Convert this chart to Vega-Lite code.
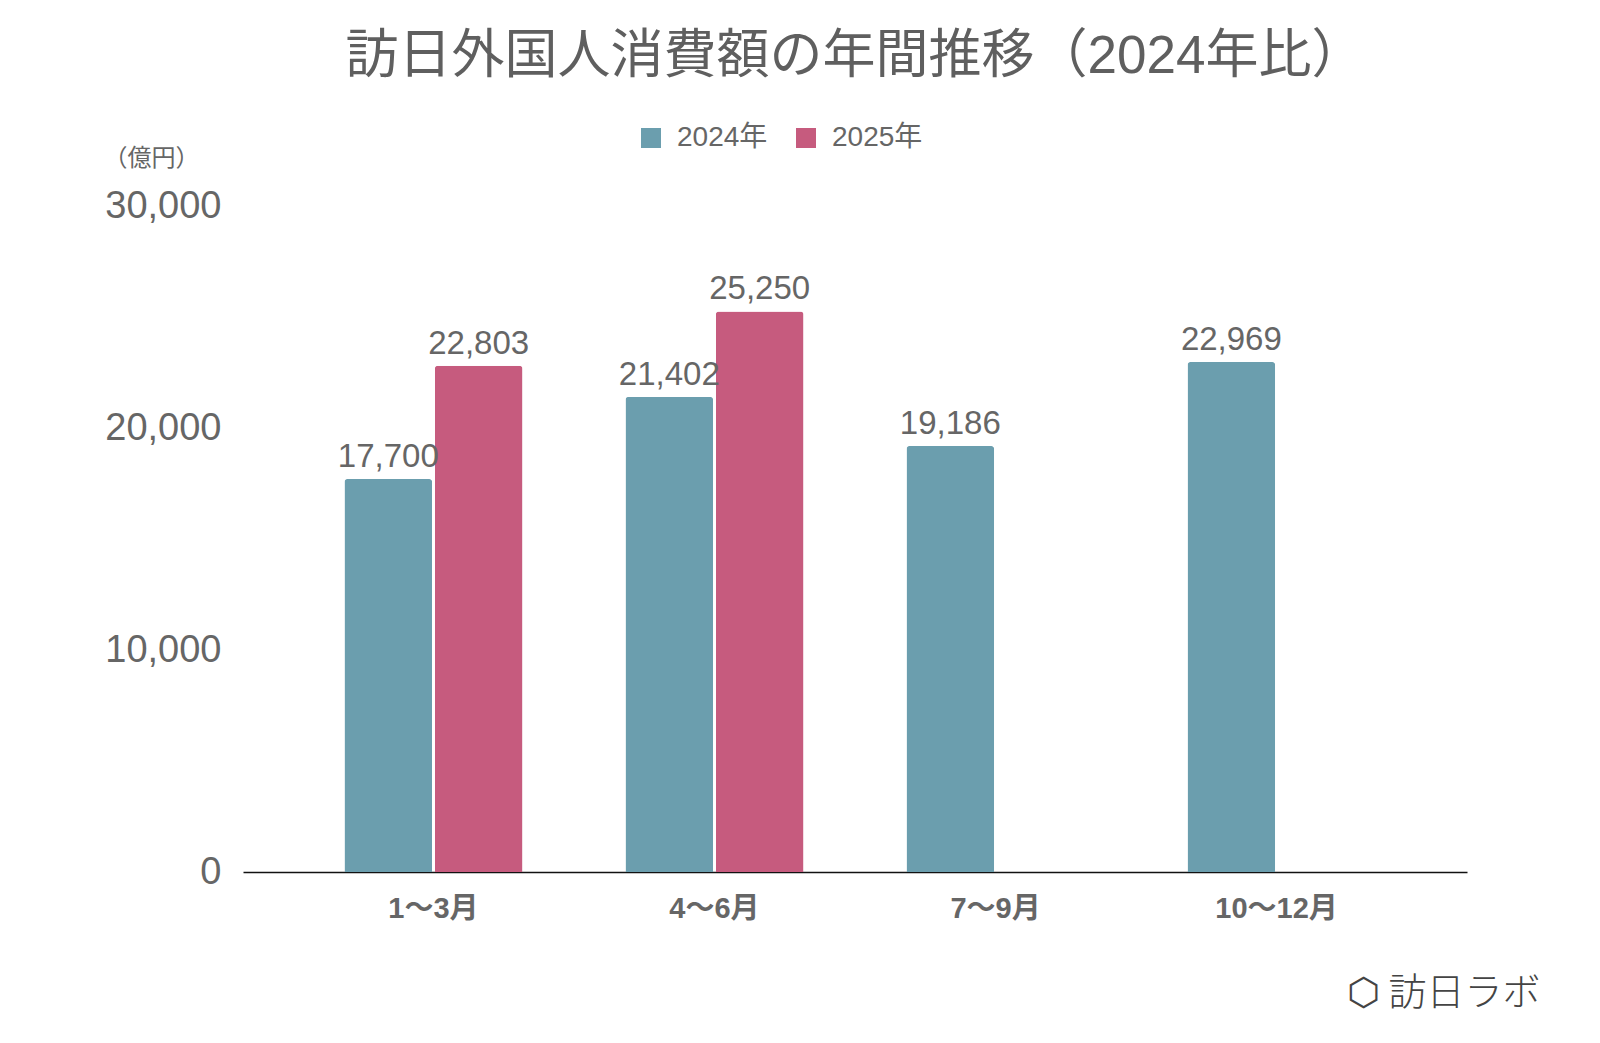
{
  "$schema": "https://vega.github.io/schema/vega-lite/v6.json",
  "width": 1224,
  "height": 666,
  "autosize": {"type": "none"},
  "padding": {"left": 243, "top": 206, "right": 133, "bottom": 171},
  "background": "white",
  "config": {
    "font": "Liberation Sans, Noto Sans CJK JP, sans-serif",
    "view": {"stroke": null}
  },
  "title": {
    "text": "訪日外国人消費額の年間推移（2024年比）",
    "font": "Liberation Sans, Noto Sans CJK JP, sans-serif",
    "fontSize": 53,
    "fontWeight": "normal",
    "color": "#5f5f5f",
    "anchor": "middle",
    "frame": "group",
    "orient": "top",
    "offset": 40
  },
  "data": {
    "values": [
      {"quarter": "1〜3月", "year": "2024年", "value": 17700},
      {"quarter": "1〜3月", "year": "2025年", "value": 22803},
      {"quarter": "4〜6月", "year": "2024年", "value": 21402},
      {"quarter": "4〜6月", "year": "2025年", "value": 25250},
      {"quarter": "7〜9月", "year": "2024年", "value": 19186},
      {"quarter": "10〜12月", "year": "2024年", "value": 22969}
    ]
  },
  "encoding": {
    "x": {
      "field": "quarter",
      "type": "nominal",
      "sort": ["1〜3月", "4〜6月", "7〜9月", "10〜12月"],
      "scale": {"paddingInner": 0.3665, "paddingOuter": 0.361},
      "axis": {
        "title": "⬡ 訪日ラボ",
        "titleAnchor": "start",
        "titleAlign": "right",
        "titleX": 1297,
        "titleY": 121,
        "titleBaseline": "middle",
        "titleFontSize": 38,
        "titleFontWeight": 300,
        "titleColor": "#444444",
        "titleFont": "Noto Sans CJK JP",
        "labelAngle": 0,
        "labelFontSize": 29,
        "labelFontWeight": "bold",
        "labelColor": "#666666",
        "labelPadding": 22,
        "ticks": false,
        "domainColor": "#111111",
        "domainWidth": 1.5,
        "grid": false
      }
    },
    "xOffset": {
      "field": "year",
      "type": "nominal",
      "scale": {"domain": ["2024年", "2025年"], "paddingInner": 0.03, "paddingOuter": 0}
    },
    "y": {
      "field": "value",
      "type": "quantitative",
      "scale": {"domain": [0, 30000]},
      "axis": {
        "values": [0, 10000, 20000, 30000],
        "format": ",d",
        "title": "（億円）",
        "titleAngle": 0,
        "titleX": -92,
        "titleY": -48,
        "titleAlign": "center",
        "titleBaseline": "middle",
        "titleFontSize": 24,
        "titleFontWeight": "normal",
        "titleColor": "#666666",
        "labelFontSize": 38,
        "labelColor": "#666666",
        "labelPadding": 22,
        "ticks": false,
        "domain": false,
        "grid": false
      }
    }
  },
  "layer": [
    {
      "mark": {"type": "bar", "cornerRadiusTopLeft": 3, "cornerRadiusTopRight": 3},
      "encoding": {
        "color": {
          "field": "year",
          "type": "nominal",
          "scale": {"domain": ["2024年", "2025年"], "range": ["#6B9EAE", "#C65B7E"]},
          "legend": {
            "title": null,
            "orient": "none",
            "direction": "horizontal",
            "legendX": 394,
            "legendY": -82,
            "symbolType": "square",
            "symbolSize": 400,
            "symbolStrokeWidth": 0,
            "labelFontSize": 28,
            "labelColor": "#666666",
            "labelOffset": 12,
            "columnPadding": 24
          }
        }
      }
    },
    {
      "mark": {"type": "text", "baseline": "alphabetic", "dy": -12, "fontSize": 33, "color": "#666666"},
      "encoding": {
        "text": {"field": "value", "type": "quantitative", "format": ",d"}
      }
    }
  ]
}
